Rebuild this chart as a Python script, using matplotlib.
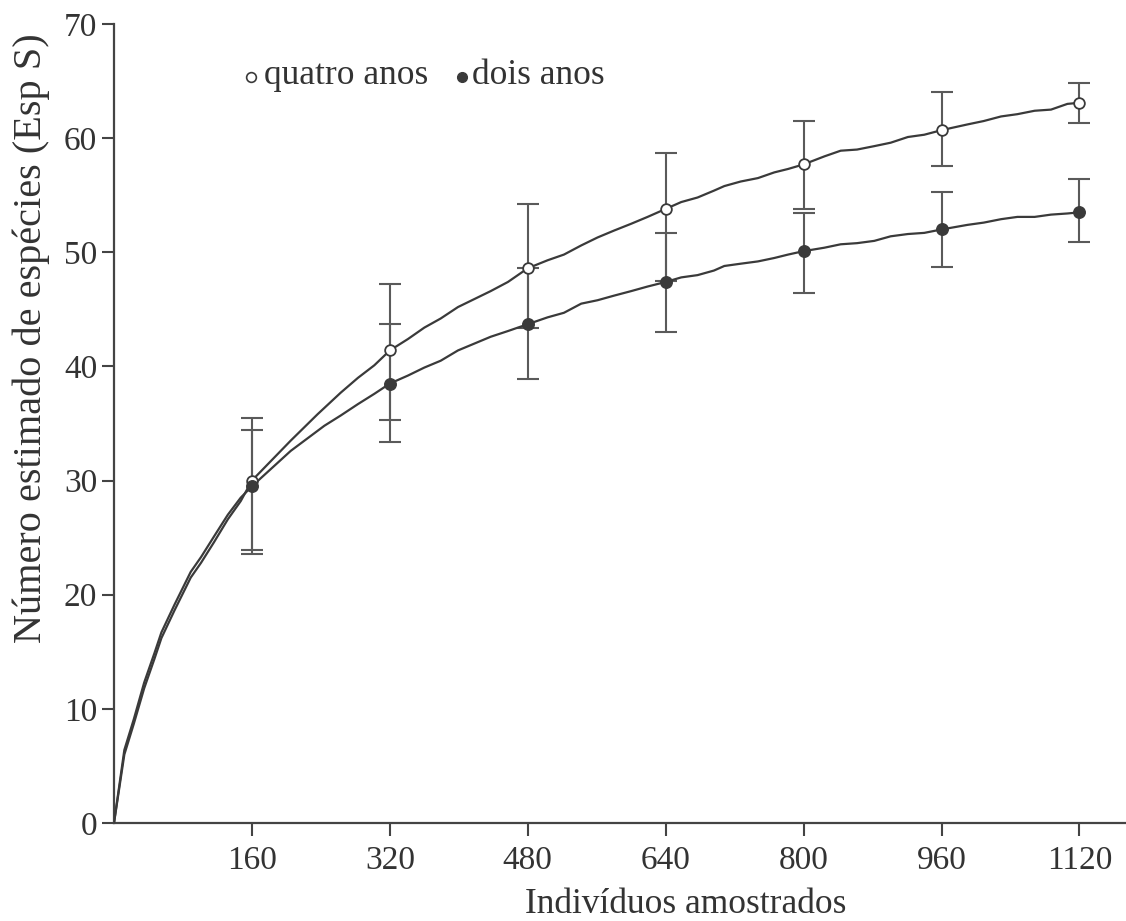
import matplotlib
matplotlib.use("Agg")
import matplotlib.pyplot as plt
import numpy as np

plt.rcParams['font.family'] = ['Liberation Serif', 'DejaVu Serif']

# ---- data ----
x_quatro = [0, 12, 23, 35, 47, 55, 70, 89, 101, 116, 132, 147, 160, 205, 236, 263, 283, 302, 320,
            341, 360, 379, 399, 418, 437, 457, 480, 503, 522, 542, 561, 580, 600, 619, 640,
            658, 677, 696, 708, 727, 747, 766, 782, 800, 824, 843, 862, 882, 901, 921, 940, 960,
            990, 1009, 1029, 1048, 1068, 1087, 1106, 1120]
y_quatro = [0, 6.0, 8.7, 11.8, 14.4, 16.2, 18.6, 21.5, 22.8, 24.6, 26.6, 28.2, 30.0, 33.5, 35.8, 37.7, 39.0, 40.1, 41.4,
            42.4, 43.4, 44.2, 45.2, 45.9, 46.6, 47.4, 48.6, 49.3, 49.8, 50.6, 51.3, 51.9, 52.5, 53.1, 53.8,
            54.4, 54.8, 55.4, 55.8, 56.2, 56.5, 57.0, 57.3, 57.7, 58.4, 58.9, 59.0, 59.3, 59.6, 60.1, 60.3, 60.7,
            61.2, 61.5, 61.9, 62.1, 62.4, 62.5, 63.0, 63.1]

x_dois = [0, 12, 23, 35, 47, 55, 70, 89, 101, 116, 132, 147, 160, 205, 244, 263, 283, 302, 320,
          341, 360, 379, 399, 418, 437, 457, 480, 503, 522, 542, 561, 580, 600, 619, 640,
          658, 677, 696, 708, 727, 747, 766, 782, 800, 824, 843, 862, 882, 901, 921, 940, 960,
          990, 1009, 1029, 1048, 1068, 1087, 1106, 1120]
y_dois = [0, 6.4, 9.1, 12.3, 14.9, 16.7, 19.1, 22.0, 23.3, 25.1, 27.0, 28.5, 29.5, 32.6, 34.8, 35.7, 36.7, 37.6, 38.5,
          39.2, 39.9, 40.5, 41.4, 42.0, 42.6, 43.1, 43.7, 44.3, 44.7, 45.5, 45.8, 46.2, 46.6, 47.0, 47.4,
          47.8, 48.0, 48.4, 48.8, 49.0, 49.2, 49.5, 49.8, 50.1, 50.4, 50.7, 50.8, 51.0, 51.4, 51.6, 51.7, 52.0,
          52.4, 52.6, 52.9, 53.1, 53.1, 53.3, 53.4, 53.5]

x_marks = [160, 320, 480, 640, 800, 960, 1120]
quatro_mean = [30.0, 41.4, 48.6, 53.8, 57.7, 60.7, 63.1]
quatro_upper = [35.5, 47.2, 54.2, 58.7, 61.5, 64.0, 64.8]
quatro_lower = [23.6, 35.3, 43.4, 47.5, 53.8, 57.6, 61.3]
dois_mean = [29.5, 38.5, 43.7, 47.4, 50.1, 52.0, 53.5]
dois_upper = [34.4, 43.7, 48.6, 51.7, 53.4, 55.3, 56.4]
dois_lower = [23.9, 33.4, 38.9, 43.0, 46.4, 48.7, 50.9]

x_ticks = [160, 320, 480, 640, 800, 960, 1120]
y_ticks = [0, 10, 20, 30, 40, 50, 60, 70]

legend_labels = ["quatro anos", "dois anos"]
xlabel = "Indivíduos amostrados"
ylabel = "Número estimado de espécies (Esp S)"

# ---- figure ----
W, H = 1126, 921
fig = plt.figure(figsize=(W / 100, H / 100), dpi=100)
ax = fig.add_axes([114 / W, 98 / H, (W - 114) / W, (823 - 24) / H])

line_c = '#3a3a3a'
err_c = '#5a5a5a'

ax.plot(x_quatro, y_quatro, color=line_c, lw=1.6, zorder=3)
ax.plot(x_dois, y_dois, color=line_c, lw=1.6, zorder=3)

q = np.array(quatro_mean)
d = np.array(dois_mean)
ax.errorbar(x_marks, q, yerr=[q - np.array(quatro_lower), np.array(quatro_upper) - q],
            fmt='none', ecolor=err_c, elinewidth=1.5, capsize=8, capthick=1.5, zorder=2)
ax.errorbar(x_marks, d, yerr=[d - np.array(dois_lower), np.array(dois_upper) - d],
            fmt='none', ecolor=err_c, elinewidth=1.5, capsize=8, capthick=1.5, zorder=2)
ax.plot(x_marks, q, 'o', ms=7.7, mfc='white', mec=line_c, mew=1.3, zorder=5)
ax.plot(x_marks, d, 'o', ms=8.3, mfc=line_c, mec=line_c, zorder=5)

ax.set_xlim(0, 1174)
ax.set_ylim(0, 70)
ax.set_xticks(x_ticks)
ax.set_yticks(y_ticks)
for s in ['top', 'right']:
    ax.spines[s].set_visible(False)
for s in ['left', 'bottom']:
    ax.spines[s].set_linewidth(1.6)
    ax.spines[s].set_color('#444444')
ax.tick_params(axis='both', direction='out', length=9, width=1.5, color='#444444',
               labelsize=24, labelcolor='#333333')
ax.tick_params(axis='x', pad=7)
ax.tick_params(axis='y', pad=3)

# axis labels
fig.text(686 / W, 1 - 904 / H, xlabel, fontsize=25.5, color='#333333', ha='center', va='center')
fig.text(31 / W, 1 - 338 / H, ylabel, fontsize=29, color='#333333', ha='center', va='center',
         rotation=90)

# legend
ax.plot([251 / W], [1 - 77 / H], 'o', ms=7, mfc='white', mec=line_c, mew=1.2,
        transform=fig.transFigure, clip_on=False)
fig.text(264 / W, 1 - 76 / H, legend_labels[0], fontsize=25.5, color='#333333', ha='left', va='center')
ax.plot([462 / W], [1 - 77 / H], 'o', ms=7, mfc=line_c, mec=line_c,
        transform=fig.transFigure, clip_on=False)
fig.text(472 / W, 1 - 76 / H, legend_labels[1], fontsize=25.5, color='#333333', ha='left', va='center')

fig.savefig('out.png', dpi=100)
